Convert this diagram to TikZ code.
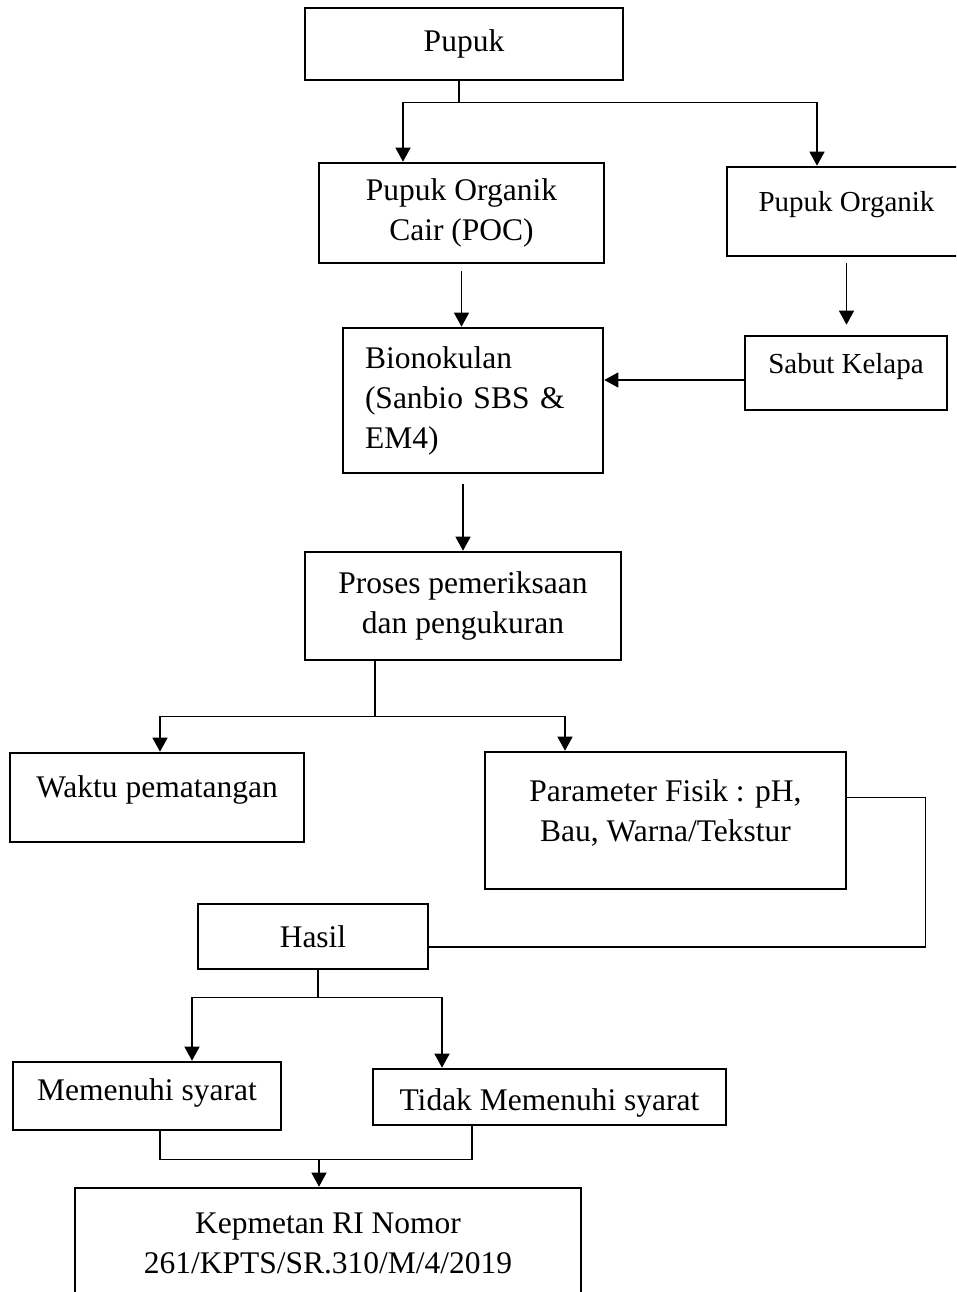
\documentclass[tikz,border=0pt]{standalone}
\usepackage{fontspec}
\setmainfont{Liberation Serif}
\usepackage{tikz}
\usetikzlibrary{arrows.meta, positioning}

\begin{document}
\begin{tikzpicture}[x=1pt, y=-1pt,
        font=\fontsize{31.5}{40}\selectfont,
        box/.style={rectangle, draw, line width=2.6pt, align=center, inner sep=0pt},
        smallbox/.style={box, font=\fontsize{29}{37}\selectfont},
        line/.style={line width=1.3pt},
        arrow/.style={line, -{Triangle[width=15pt, length=14pt]}}]

        \useasboundingbox (0,0) rectangle (956,1292);
        \clip (0,0) rectangle (956,1292);

        % Baris atas
        \node[box, minimum width=318pt, minimum height=72pt] (pupuk) at (464,44) {Pupuk};
        \node[box, minimum width=285pt, minimum height=100pt] (poc) at (461.5,213) {Pupuk Organik \\ Cair (POC)};
        \node[smallbox, minimum width=239pt, minimum height=89pt, text depth=20pt] (organik) at (846.5,211.5) {Pupuk Organik};

        % Bahan
        \node[box, minimum width=260pt, minimum height=145pt, text width=216pt, align=left] (bio) at (473,400.5) {Bionokulan \\ (Sanbio SBS \& \\ EM4)};
        \node[smallbox, minimum width=202pt, minimum height=74pt, text depth=19pt] (sabut) at (846,373) {Sabut Kelapa};

        % Proses
        \node[box, minimum width=316pt, minimum height=108pt] (proses) at (463,606) {Proses pemeriksaan \\ dan pengukuran};
        \node[box, minimum width=294pt, minimum height=89pt, text depth=21pt] (waktu) at (157,797.5) {Waktu pematangan};
        \node[box, minimum width=361pt, minimum height=137pt, text depth=19pt] (param) at (665.5,820.5) {Parameter Fisik : pH, \\ Bau, Warna/Tekstur};

        % Hasil
        \node[box, minimum width=230pt, minimum height=65pt] (hasil) at (313,936.5) {Hasil};
        \node[box, minimum width=268pt, minimum height=68pt, text depth=13pt] (penuh) at (147,1096) {Memenuhi syarat};
        \node[box, minimum width=353pt, minimum height=56pt, text height=33pt] (tidak) at (549.5,1097) {Tidak Memenuhi syarat};
        \node[box, minimum width=506pt, minimum height=110pt] (kep) at (328,1243) {Kepmetan RI Nomor \\ 261/KPTS/SR.310/M/4/2019};

        % Panah atas
        \draw[line] ([xshift=-5pt]pupuk.south) -- ++(0,21) coordinate (j1);
        \draw[arrow] (j1) -| ([xshift=-58.5pt]poc.north);
        \draw[arrow] (j1) -| ([xshift=-29.5pt]organik.north);
        \draw[arrow] ([yshift=-7pt]poc.south) -- (poc.south |- bio.north);
        \draw[arrow] ([yshift=-6pt]organik.south) -- ([yshift=10pt]organik.south |- sabut.north);
        \draw[arrow] ([yshift=-7pt]sabut.west) -- ([yshift=-7pt]sabut.west -| bio.east);
        \draw[arrow] (proses.north |- bio.south) ++(0,10) -- (proses.north);

        % Percabangan proses
        \draw[line] ([xshift=-88pt]proses.south) -- ++(0,55) coordinate (j2);
        \draw[arrow] (j2) -| ([xshift=3pt]waktu.north);
        \draw[arrow] (j2) -| ([xshift=-100.5pt]param.north);

        % Parameter ke hasil
        \draw[line] ([yshift=23pt]param.east) -- ++(78,0) |- ([yshift=-10.5pt]hasil.east);

        % Percabangan hasil
        \draw[line] ([xshift=5pt]hasil.south) -- ++(0,27.5) coordinate (j3);
        \draw[arrow] (j3) -| ([xshift=45pt]penuh.north);
        \draw[arrow] (j3) -| ([xshift=-107.5pt]tidak.north);

        % Ke keputusan
        \draw[line] ([xshift=13pt]penuh.south) -- ++(0,28) coordinate (j4) -| ([xshift=-77.5pt]tidak.south);
        \path ([xshift=-9pt]kep.north) coordinate (k1);
        \draw[arrow] (k1 |- j4) -- (k1);

    \end{tikzpicture}
\end{document}
